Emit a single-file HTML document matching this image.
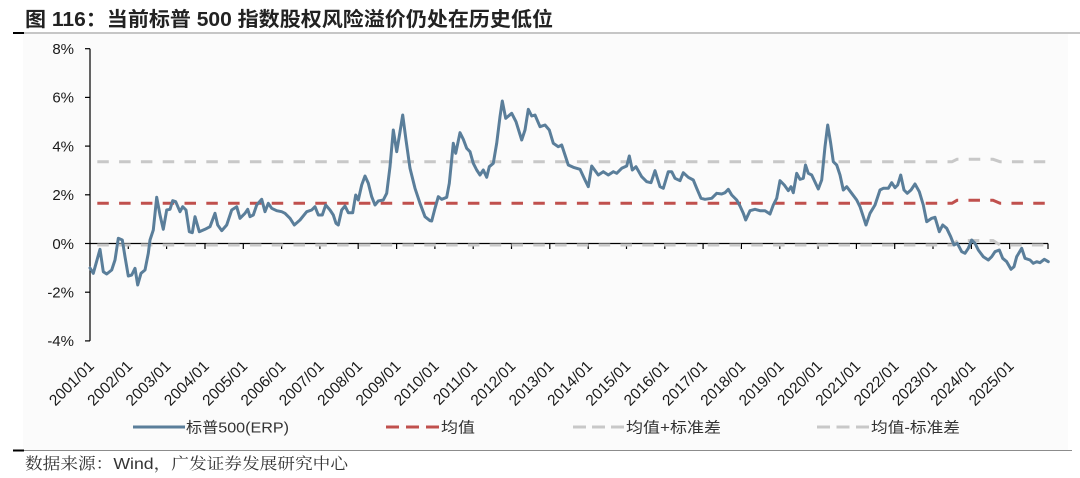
<!DOCTYPE html>
<html>
<head>
<meta charset="utf-8">
<style>
  html, body { margin: 0; padding: 0; background: #ffffff; }
  svg { display: block; }
  .lat { font-family: "Liberation Sans", "Noto Sans CJK SC", sans-serif; }
  .cjk { font-family: "Liberation Sans", "Noto Sans CJK SC", sans-serif; }
</style>
</head>
<body>
<svg width="1080" height="478" viewBox="0 0 1080 478" xmlns="http://www.w3.org/2000/svg">
  <rect x="0" y="0" width="1080" height="478" fill="#ffffff"/>
  <rect x="23" y="34" width="1045" height="416" fill="#fbfbfb"/>

  <!-- Title -->
  <text x="25" y="26" class="cjk" font-size="20" font-weight="bold" fill="#222" textLength="528" lengthAdjust="spacingAndGlyphs">图 116：当前标普 500 指数股权风险溢价仍处在历史低位</text>
  <line x1="13" y1="33" x2="1080" y2="33" stroke="#8c8c8c" stroke-width="1"/>
  <line x1="13" y1="33" x2="24" y2="33" stroke="#000" stroke-width="2"/>

  <!-- Y axis labels -->
  <g class="lat" font-size="15" fill="#1a1a1a" text-anchor="end">
    <text x="74" y="54">8%</text>
    <text x="74" y="102.7">6%</text>
    <text x="74" y="151.4">4%</text>
    <text x="74" y="200.1">2%</text>
    <text x="74" y="248.8">0%</text>
    <text x="74" y="297.5">-2%</text>
    <text x="74" y="346.2">-4%</text>
  </g>

  <!-- Y axis -->
  <g stroke="#000" stroke-width="1.2">
    <line x1="90" y1="48.7" x2="90" y2="340.9"/>
    <line x1="85" y1="48.7" x2="90" y2="48.7"/>
    <line x1="85" y1="97.4" x2="90" y2="97.4"/>
    <line x1="85" y1="146.1" x2="90" y2="146.1"/>
    <line x1="85" y1="194.8" x2="90" y2="194.8"/>
    <line x1="85" y1="243.5" x2="90" y2="243.5"/>
    <line x1="85" y1="292.2" x2="90" y2="292.2"/>
    <line x1="85" y1="340.9" x2="90" y2="340.9"/>
  </g>

  <!-- X axis at 0 -->
  <line x1="90" y1="243.5" x2="1048" y2="243.5" stroke="#000" stroke-width="1.2"/>
  <g stroke="#000" stroke-width="1.2">
    <line x1="128.3" y1="243.5" x2="128.3" y2="249"/>
    <line x1="166.6" y1="243.5" x2="166.6" y2="249"/>
    <line x1="205.0" y1="243.5" x2="205.0" y2="249"/>
    <line x1="243.3" y1="243.5" x2="243.3" y2="249"/>
    <line x1="281.6" y1="243.5" x2="281.6" y2="249"/>
    <line x1="319.9" y1="243.5" x2="319.9" y2="249"/>
    <line x1="358.2" y1="243.5" x2="358.2" y2="249"/>
    <line x1="396.6" y1="243.5" x2="396.6" y2="249"/>
    <line x1="434.9" y1="243.5" x2="434.9" y2="249"/>
    <line x1="473.2" y1="243.5" x2="473.2" y2="249"/>
    <line x1="511.5" y1="243.5" x2="511.5" y2="249"/>
    <line x1="549.8" y1="243.5" x2="549.8" y2="249"/>
    <line x1="588.2" y1="243.5" x2="588.2" y2="249"/>
    <line x1="626.5" y1="243.5" x2="626.5" y2="249"/>
    <line x1="664.8" y1="243.5" x2="664.8" y2="249"/>
    <line x1="703.1" y1="243.5" x2="703.1" y2="249"/>
    <line x1="741.4" y1="243.5" x2="741.4" y2="249"/>
    <line x1="779.8" y1="243.5" x2="779.8" y2="249"/>
    <line x1="818.1" y1="243.5" x2="818.1" y2="249"/>
    <line x1="856.4" y1="243.5" x2="856.4" y2="249"/>
    <line x1="894.7" y1="243.5" x2="894.7" y2="249"/>
    <line x1="933.0" y1="243.5" x2="933.0" y2="249"/>
    <line x1="971.4" y1="243.5" x2="971.4" y2="249"/>
    <line x1="1009.7" y1="243.5" x2="1009.7" y2="249"/>
    <line x1="1048.0" y1="243.5" x2="1048.0" y2="249"/>
  </g>

  <!-- Reference lines -->
  <polyline points="90,161.7 952,161.7 957,159.3 993,159.3 1000,161.7 1048,161.7" fill="none" stroke="#c8c8c8" stroke-width="3" stroke-dasharray="11.5 10.3" stroke-dashoffset="-7.3"/>
  <polyline points="90,203.3 952,203.3 957,200.3 993,200.3 1000,203.3 1048,203.3" fill="none" stroke="#c0504d" stroke-width="3" stroke-dasharray="11.5 10.3" stroke-dashoffset="-7.3"/>
  <polyline points="90,245 952,245 958,240.5 993,240.5 1000,245 1048,245" fill="none" stroke="#c8c8c8" stroke-width="3" stroke-dasharray="11.5 10.3" stroke-dashoffset="-7.3"/>

  <!-- ERP series -->
  <polyline fill="none" stroke="#5a7e9a" stroke-width="3" stroke-linejoin="round" stroke-linecap="round" points="
90,268 93.3,273.3 100,249.3 103.3,271.7 106.7,274 111.7,270 115,260 118.3,238.3 122.3,240 125,256.7 128.3,276 131.7,275 135,268.3 137.7,285 141,273.3 145,270 148.3,253.3 150,240 153.3,230 156.7,197.3 160,215 163.3,229.3 166.7,210 170,209.3 172.7,200.7 175.7,201.7 180,211.7 182.7,206.7 186,210 189.3,231.7 192.3,232.7 195,216.7 199.3,231.7 205,229.3 210,226.7 215,213.3 217.7,225 221.7,230.7 226.7,225 231.7,210 236.7,206.7 240,218.3 245,213.3 247.7,209.3 250,216.7 253.3,215 256.7,205 261.7,199.3 265,211.7 268.3,203.3 271.7,208.3 276.7,210.7 281.7,211.7 285,213.3 290,218.3 294.3,225 300,220 306.7,211.7 311.7,210 315,206.7 318.3,215 322.3,215 325.7,205 330,210
333.3,215 336,223.3 338.3,225 341.7,210 345,206 348.3,212.7 352.7,212.7 355.7,195 358.3,200 361.7,185 365,176 368.3,183.3 371.7,196.7 375,205 378.3,201 383.3,200 386.7,193.3 390,166.7 393.3,130 396.7,151.7 400,131.7 402.7,115 406,140 410,168.3 415,188.3 420,203.3 425,216.7 430,220.7 431.7,221 435,208.3 438.3,196.7 441.7,199.3 446.7,197.3 449.3,183.3 453.3,143.3 455.7,153.3 460,132.7 463.3,139.3 466.7,148.3 470,151.7 473.3,163.3 476.7,170 480,175 483.3,170 486.7,177.3 489.3,166.7 493.3,163.3 496.7,143.3 500,116.7 502.3,101 505.7,118.3 511.7,113.3 516,121.7 521.7,140 525,130 528.3,109.3 531.7,116 535,115 540,126.7 545,125 549.3,130 553.3,143.3 558.3,146.7 561.7,145 565,155 568.3,165 573.3,167.3
580,169.3 585,180 588.3,186.7 591.7,166 598.3,175 603.3,171.7 608.3,175 613.3,171.7 616.7,173.3 621.7,168.3 626.7,166 629.3,156 632.3,170 636,166.7 641.7,176.7 646.7,181.7 651,182.7 655,170.7 660,186.7 663.3,188.3 668.3,171.7 671.7,171.7 675,178.3 680,180.7 683.3,172.7 688.3,177.3 693.3,180 696.7,188.3 701,198.3 705,199.3 711.7,198.3 716.7,193.3 721.7,194 725,192.7 728.3,189.3 731.7,195 736.7,200 740,206 743.3,213.3 745.7,220 750,210.7 755,209.3 760,210.7 765,210.7 770,214 773.3,205 776.7,198.3 780,180.7 784.3,185 788.3,190.7 791,186.7 793.3,192.7 796.7,173.3 800,179.3 803.3,178.3
805.5,165 808.3,173.3 811.7,175 818.3,189 821.7,180 825,146.7 827.7,125 830.7,143.3 833.3,161.7 836.7,165 840,175 843.3,190 846.7,186.7 851.7,193.3 856.7,200 860,206.7 863.3,216.7 866,225 870,213.3 875,205 880,190 883.3,188.3 888.3,188.3 891.7,182.7 895,187.7 897.7,185 900.7,175 904,190 907.3,193.3 911,190 915,184 919.3,191.7 923.3,205 926.7,221.7 931.7,218.3 935,217.3 939.3,231.7 942.7,225 946.7,228.3 950.7,236.7 954,245 957.3,243.3 961.7,251.7 965,253.3 968.3,248.3 971.7,240 975,243.3 978.3,250 983.3,256.7 988.3,260 991.7,256.7 995,251.7 999.3,250 1002.7,258.3 1006.7,261.7 1011,269.3 1014,266.7 1016.7,256.7 1021.7,248.3 1025,258.3 1030,260 1033.3,263.3 1036.7,261.7 1040,262.7 1044.3,259.3 1048.3,261.7"/>

  <!-- X labels -->
  <g class="lat" font-size="15.5" fill="#1a1a1a" text-anchor="end">
    <text transform="translate(95,367) rotate(-45)">2001/01</text>
    <text transform="translate(133.3,367) rotate(-45)">2002/01</text>
    <text transform="translate(171.6,367) rotate(-45)">2003/01</text>
    <text transform="translate(210,367) rotate(-45)">2004/01</text>
    <text transform="translate(248.3,367) rotate(-45)">2005/01</text>
    <text transform="translate(286.6,367) rotate(-45)">2006/01</text>
    <text transform="translate(324.9,367) rotate(-45)">2007/01</text>
    <text transform="translate(363.2,367) rotate(-45)">2008/01</text>
    <text transform="translate(401.6,367) rotate(-45)">2009/01</text>
    <text transform="translate(439.9,367) rotate(-45)">2010/01</text>
    <text transform="translate(478.2,367) rotate(-45)">2011/01</text>
    <text transform="translate(516.5,367) rotate(-45)">2012/01</text>
    <text transform="translate(554.8,367) rotate(-45)">2013/01</text>
    <text transform="translate(593.2,367) rotate(-45)">2014/01</text>
    <text transform="translate(631.5,367) rotate(-45)">2015/01</text>
    <text transform="translate(669.8,367) rotate(-45)">2016/01</text>
    <text transform="translate(708.1,367) rotate(-45)">2017/01</text>
    <text transform="translate(746.4,367) rotate(-45)">2018/01</text>
    <text transform="translate(784.8,367) rotate(-45)">2019/01</text>
    <text transform="translate(823.1,367) rotate(-45)">2020/01</text>
    <text transform="translate(861.4,367) rotate(-45)">2021/01</text>
    <text transform="translate(899.7,367) rotate(-45)">2022/01</text>
    <text transform="translate(938,367) rotate(-45)">2023/01</text>
    <text transform="translate(976.4,367) rotate(-45)">2024/01</text>
    <text transform="translate(1014.7,367) rotate(-45)">2025/01</text>
  </g>

  <!-- Legend -->
  <line x1="133" y1="427" x2="185" y2="427" stroke="#5a7e9a" stroke-width="3"/>
  <text x="186" y="432.5" class="cjk" font-size="15" fill="#333" textLength="103" lengthAdjust="spacingAndGlyphs">标普500(ERP)</text>

  <line x1="386" y1="427" x2="439" y2="427" stroke="#c0504d" stroke-width="3" stroke-dasharray="13 7"/>
  <text x="441" y="432.5" class="cjk" font-size="15" fill="#333" textLength="34" lengthAdjust="spacingAndGlyphs">均值</text>

  <line x1="573" y1="427" x2="624" y2="427" stroke="#c8c8c8" stroke-width="3" stroke-dasharray="13 6"/>
  <text x="626" y="432.5" class="cjk" font-size="15" fill="#333" textLength="95" lengthAdjust="spacingAndGlyphs">均值+标准差</text>

  <line x1="817" y1="427" x2="869" y2="427" stroke="#c8c8c8" stroke-width="3" stroke-dasharray="13 6.5"/>
  <text x="871" y="432.5" class="cjk" font-size="15" fill="#333" textLength="89" lengthAdjust="spacingAndGlyphs">均值-标准差</text>

  <!-- Footer -->
  <line x1="13" y1="450.5" x2="1072" y2="450.5" stroke="#8c8c8c" stroke-width="1"/>
  <line x1="13" y1="450.5" x2="24" y2="450.5" stroke="#000" stroke-width="2"/>
  <text x="25" y="469" font-family="'Liberation Sans', 'Noto Serif CJK SC', serif" font-size="16" fill="#333" textLength="323" lengthAdjust="spacingAndGlyphs">数据来源：Wind，广发证券发展研究中心</text>
</svg>
</body>
</html>
